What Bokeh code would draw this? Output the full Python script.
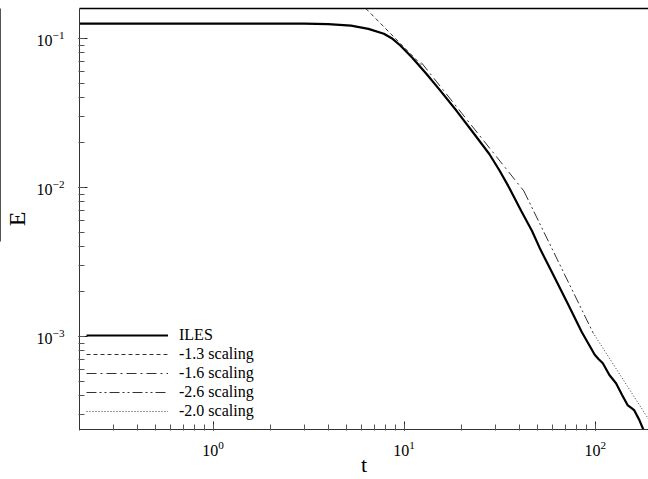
from bokeh.plotting import figure
from bokeh.models import (LogAxis, LinearAxis, Range1d, Legend, LegendItem,
                          FixedTicker, LogTicker, LinearScale)
from bokeh.embed import file_html
from bokeh.resources import INLINE

# ---- data ----
iles_t = [0.2, 0.5, 1.0, 2.0, 3.0, 4.0, 5.27, 6.5, 7.83, 8.7, 9.55, 11.0, 13.1,
          15.5, 18.8, 23.0, 27.9, 31.5, 35.4, 41.0, 46.7, 51.6, 60.0, 72.3,
          85.0, 99.4, 104.0, 109.6, 118.6, 128.5, 138.0, 147.6, 155.0, 159.7,
          170.0, 178.5]
iles_E = [0.126, 0.126, 0.126, 0.1259, 0.1257, 0.1248, 0.122, 0.116, 0.1076,
          0.0995, 0.0897, 0.0745, 0.0578, 0.0445, 0.0327, 0.0233, 0.01676,
          0.01305, 0.0100, 0.00695, 0.0051, 0.00384, 0.00262, 0.00163, 0.00107,
          7.52e-4, 7.05e-4, 6.6e-4, 5.5e-4, 4.84e-4, 4.05e-4, 3.46e-4, 3.3e-4,
          3.2e-4, 2.75e-4, 2.37e-4]

s13_t = [6.3, 12.3]
s13_E = [0.159, 0.0666]
s16_t = [12.3, 42.3]
s16_E = [0.0689, 0.00947]
s26_t = [42.3, 97.3]
s26_E = [0.00947, 0.00106]
s20_t = [97.3, 200.0]
s20_E = [0.00106, 2.51e-4]

labels = ["ILES", "-1.3 scaling", "-1.6 scaling", "-2.6 scaling", "-2.0 scaling"]

FONT = "Liberation Serif"

p = figure(width=648, height=479, x_axis_type="log", y_axis_type="log",
           x_range=Range1d(0.2, 190), y_range=Range1d(2.37e-4, 0.159),
           output_backend="svg", toolbar_location=None,
           min_border_left=0, min_border_right=0, min_border_top=8,
           min_border_bottom=0)
p.outline_line_color = None
p.xgrid.visible = False
p.ygrid.visible = False
p.background_fill_color = "white"
p.border_fill_color = "white"

xa = p.xaxis[0]
ya = p.yaxis[0]
xa.axis_label = "t"
ya.axis_label = "E"
for ax in (xa, ya):
    ax.major_tick_in = 8
    ax.major_tick_out = 1
    ax.minor_tick_in = 5
    ax.minor_tick_out = 1
    ax.axis_line_color = "#333333"
    ax.major_tick_line_color = "#222222"
    ax.minor_tick_line_color = "#555555"
    ax.major_label_text_font = FONT
    ax.major_label_text_font_size = "16px"
    ax.major_label_text_color = "black"
    ax.axis_label_text_font = FONT
    ax.axis_label_text_font_style = "normal"
    ax.axis_label_text_color = "black"
xa.axis_label_text_font_size = "22px"
ya.axis_label_text_font_size = "24px"
xa.major_label_standoff = 10
ya.major_label_standoff = 14
xa.axis_label_standoff = -7
ya.axis_label_standoff = 4

# top frame line
top = LinearAxis(ticker=FixedTicker(ticks=[]), major_label_text_font_size="0px",
                 major_tick_line_color=None, minor_tick_line_color=None,
                 axis_line_color="black", axis_line_width=1.5)
p.add_layout(top, "above")

# stray overline bar at far left
p.extra_y_ranges = {"bar": Range1d(0, 420)}
p.extra_y_scales = {"bar": LinearScale()}
bar = LinearAxis(y_range_name="bar", ticker=FixedTicker(ticks=[]),
                 major_label_text_font_size="0px", major_tick_line_color=None,
                 minor_tick_line_color=None, axis_line_color="#555555",
                 bounds=(188, 420))
p.add_layout(bar, "left")

r0 = p.line(iles_t, iles_E, line_color="black", line_width=2.2)
r1 = p.line(s13_t, s13_E, line_color="#333333", line_width=1, line_dash="4 3")
r2 = p.line(s16_t, s16_E, line_color="#333333", line_width=1, line_dash="10 4 2 4")
r3 = p.line(s26_t, s26_E, line_color="#333333", line_width=1, line_dash="10 3 2 3 2 3")
r4 = p.line(s20_t, s20_E, line_color="#333333", line_width=1, line_dash="1 2")

legend = Legend(items=[LegendItem(label=l, renderers=[r]) for l, r in
                       zip(labels, [r0, r1, r2, r3, r4])],
                location=(7, 9), glyph_width=82, glyph_height=18,
                label_height=18, spacing=1, padding=0, margin=0,
                label_standoff=11, label_text_font=FONT,
                label_text_font_size="16px", label_text_color="black",
                border_line_color=None, background_fill_alpha=0)
p.add_layout(legend, "center")

open("out.html", "w").write(file_html(p, INLINE))
